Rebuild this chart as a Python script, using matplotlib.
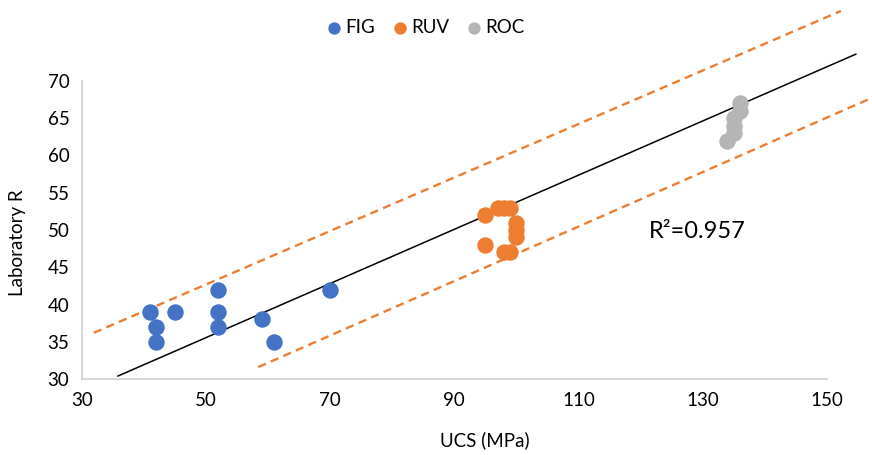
import matplotlib
matplotlib.use("Agg")
import matplotlib.pyplot as plt

plt.rcParams['font.family'] = ['Lato', 'DejaVu Sans']

# data
fig_x = [41, 42, 42, 45, 52, 52, 52, 59, 61, 70]
fig_y = [39, 37, 35, 39, 42, 39, 37, 38, 35, 42]
ruv_x = [95, 95, 97, 98, 99, 98, 99, 100, 100, 100]
ruv_y = [52, 48, 53, 53, 53, 47, 47, 51, 50, 49]
roc_x = [134, 135, 135, 135, 136, 136]
roc_y = [62, 63, 64, 65, 66, 67]

# regression line and bounds (end points)
fit_x = [35.8, 154.7]
fit_y = [30.4, 73.6]
upper_x = [31.9, 152.3]
upper_y = [36.2, 79.4]
lower_x = [58.4, 158.0]
lower_y = [31.6, 68.0]

xticks = [30, 50, 70, 90, 110, 130, 150]
yticks = [30, 35, 40, 45, 50, 55, 60, 65, 70]

fig = plt.figure(figsize=(8.72, 4.55), dpi=100)
ax = fig.add_axes([0.094, 0.167, 0.854, 0.655])

ax.plot(upper_x, upper_y, color='#ED7D31', lw=1.7, ls=(0, (3.5, 2.3)), clip_on=False, zorder=2)
ax.plot(lower_x, lower_y, color='#ED7D31', lw=1.7, ls=(0, (3.5, 2.3)), clip_on=False, zorder=2)
ax.plot(fit_x, fit_y, color='black', lw=1.1, clip_on=False, zorder=2)

s = 140
ax.scatter(fig_x, fig_y, s=s, color='#4472C4', label='FIG', zorder=3, clip_on=False, linewidths=0)
ax.scatter(ruv_x, ruv_y, s=s, color='#ED7D31', label='RUV', zorder=3, clip_on=False, linewidths=0)
ax.scatter(roc_x, roc_y, s=s, color='#B5B5B5', label='ROC', zorder=3, clip_on=False, linewidths=0)

ax.text(121.3, 49.8, 'R²=0.957', fontsize=17, ha='left', va='center')

ax.set_xlim(30, 150)
ax.set_ylim(30, 70)
ax.set_xticks(xticks)
ax.set_yticks(yticks)
ax.tick_params(length=0, labelsize=13.5, pad=9)
for side in ['top', 'right']:
    ax.spines[side].set_visible(False)
for side in ['left', 'bottom']:
    ax.spines[side].set_color('#D0D0D0')
    ax.spines[side].set_linewidth(1.2)

ax.set_xlabel('UCS (MPa)', fontsize=13.5, ha='center', va='center')
ax.set_ylabel('Laboratory R', fontsize=13.5, ha='center', va='center')
ax.xaxis.set_label_coords(0.541, -0.205)
ax.yaxis.set_label_coords(-0.087, 0.456)

leg = fig.legend(loc='center', bbox_to_anchor=(0.488, 0.94), ncol=3, frameon=False,
                 fontsize=13.5, markerscale=0.75, handlelength=0.8, handletextpad=0.2,
                 columnspacing=0.9)

fig.savefig('out.png', dpi=100)
